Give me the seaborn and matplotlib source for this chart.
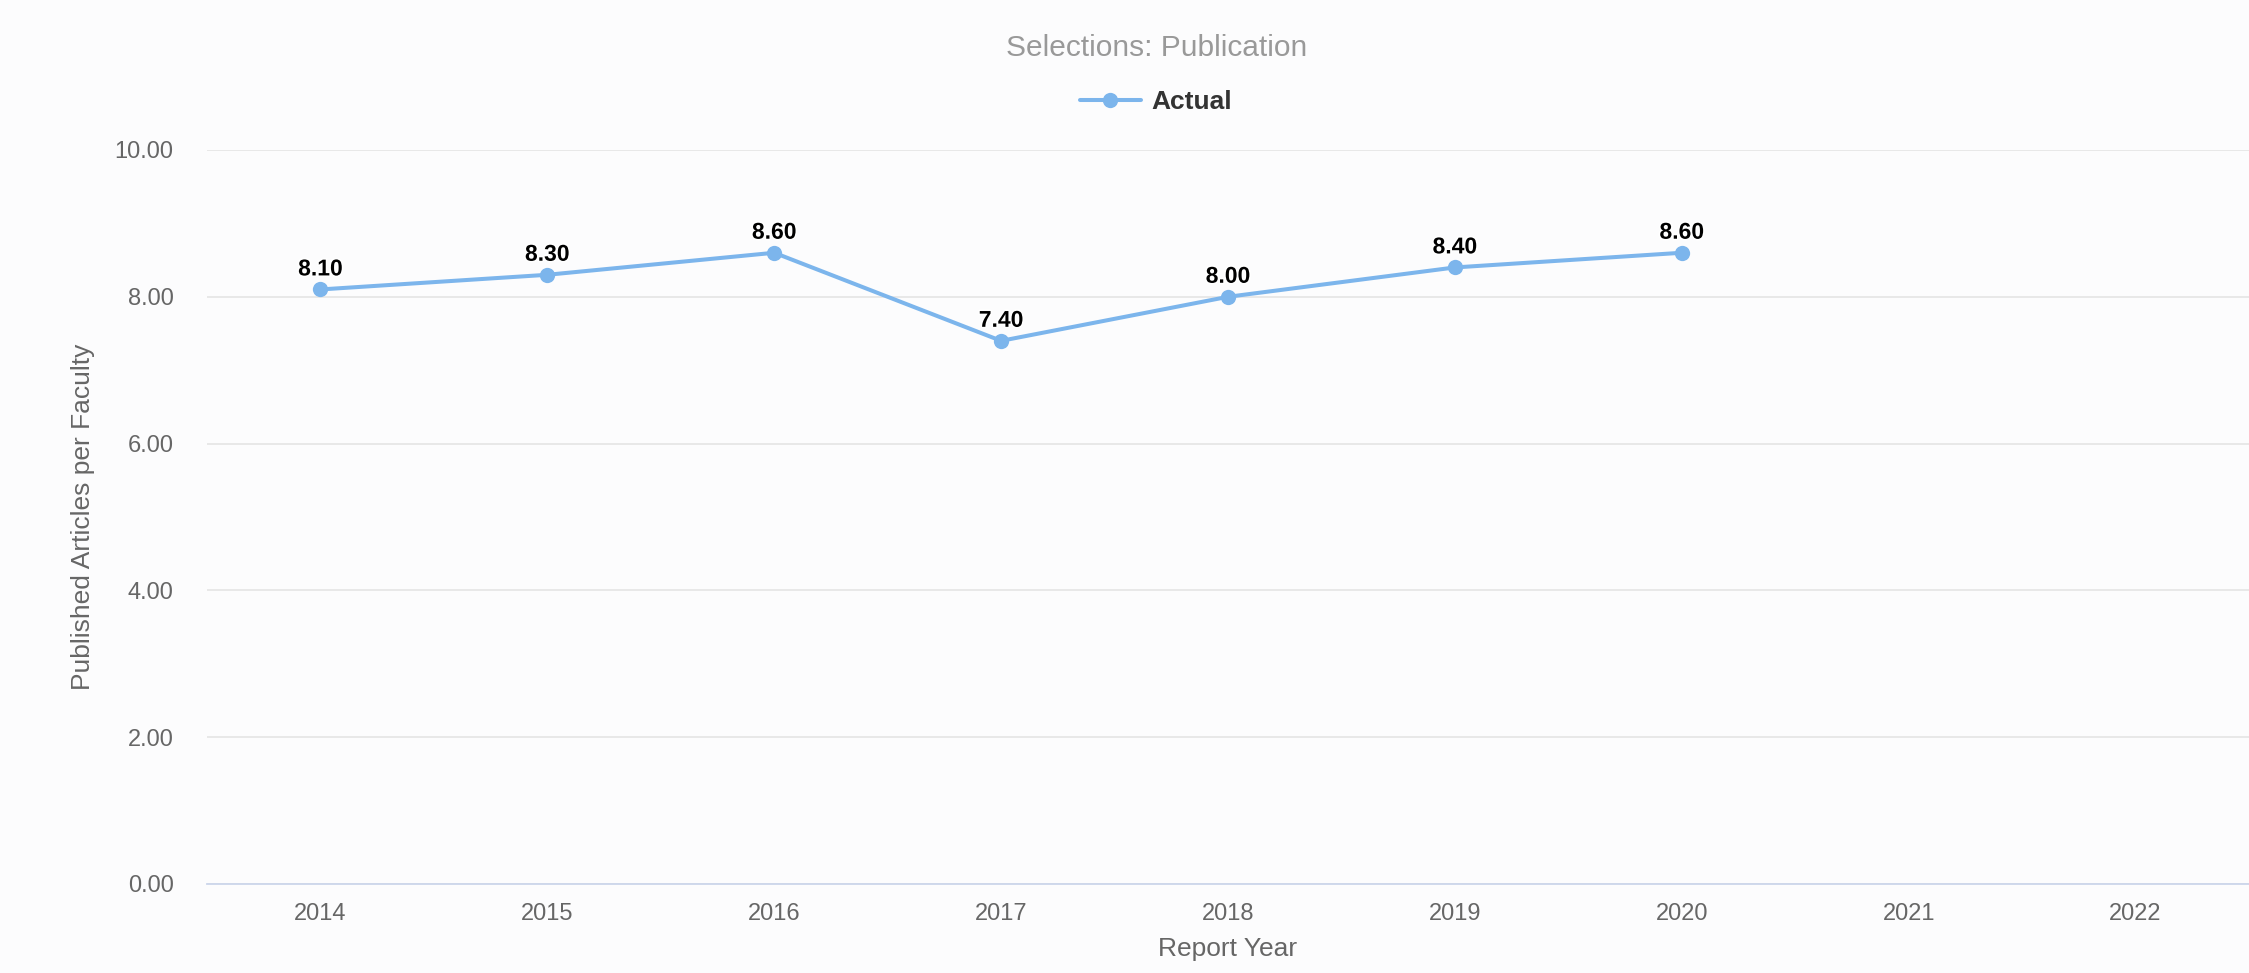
import pandas as pd
import numpy as np
import matplotlib.pyplot as plt
import matplotlib.patheffects as pe
import seaborn as sns

# chart values
years = [2014, 2015, 2016, 2017, 2018, 2019, 2020, 2021, 2022]
actual = [8.10, 8.30, 8.60, 7.40, 8.00, 8.40, 8.60, np.nan, np.nan]
y_ticks = [0, 2, 4, 6, 8, 10]

title_text = "Selections: Publication"
series_name = "Actual"
x_title = "Report Year"
y_title = "Published Articles per Faculty"

line_color = "#7cb5ec"
bg_color = "#fcfcfd"


def draw_chart():
    sns.set_theme(style="white")
    plt.rcParams['font.family'] = ['Liberation Sans', 'DejaVu Sans']

    df = pd.DataFrame({"year": years, "value": actual})

    fig = plt.figure(figsize=(22.49, 9.73), dpi=100, facecolor=bg_color)
    ax = fig.add_axes([207 / 2249, 89 / 973, 2042 / 2249, 734 / 973])
    ax.set_facecolor(bg_color)

    sns.lineplot(data=df.dropna(), x="year", y="value", ax=ax, color=line_color,
                 linewidth=2.9, marker="o", markersize=11, markeredgewidth=0,
                 label=series_name, legend=False)

    # value labels above each point
    for yr, val in zip(df["year"], df["value"]):
        if pd.isna(val):
            continue
        ax.annotate(f"{val:.2f}", (yr, val), xytext=(0, 6.5), textcoords="offset points",
                    ha="center", va="bottom", fontsize=16.5, fontweight="bold",
                    color="#000000",
                    path_effects=[pe.withStroke(linewidth=2.5, foreground="white")])

    ax.set_xlim(years[0] - 0.5, years[-1] + 0.5)
    ax.set_ylim(0, 10)
    ax.set_xticks(years)
    ax.set_xticklabels([str(y) for y in years])
    ax.set_yticks(y_ticks)
    ax.set_yticklabels([f"{t:.2f}" for t in y_ticks])

    ax.grid(axis="y", color="#e6e6e6", linewidth=1.3)
    ax.grid(axis="x", visible=False)
    ax.set_axisbelow(True)
    for side in ["top", "right", "left"]:
        ax.spines[side].set_visible(False)
    ax.spines["bottom"].set_color("#ccd6eb")
    ax.spines["bottom"].set_linewidth(1.3)

    ax.tick_params(axis="x", length=0, pad=14, labelsize=17, labelcolor="#666666")
    ax.tick_params(axis="y", length=0, pad=24, labelsize=17, labelcolor="#666666")

    ax.set_xlabel(x_title, fontsize=19, color="#666666")
    ax.set_ylabel(y_title, fontsize=19, color="#666666")
    ax.xaxis.set_label_coords(0.5, -0.072)
    ax.yaxis.set_label_coords((95 - 207) / 2042, 0.5)

    fig.text(1157 / 2249, 1 - 48 / 973, title_text, ha="center", va="center",
             fontsize=21.5, color="#999999")

    handles, labels = ax.get_legend_handles_labels()
    fig.legend(handles, labels, loc="center", bbox_to_anchor=(1156 / 2249, 1 - 102 / 973),
               frameon=False, handlelength=2.3, handletextpad=0.4,
               prop={"size": 19, "weight": "bold"}, labelcolor="#333333")

    fig.savefig("out.png", dpi=100, facecolor=bg_color)


if __name__ == "__main__":
    draw_chart()
